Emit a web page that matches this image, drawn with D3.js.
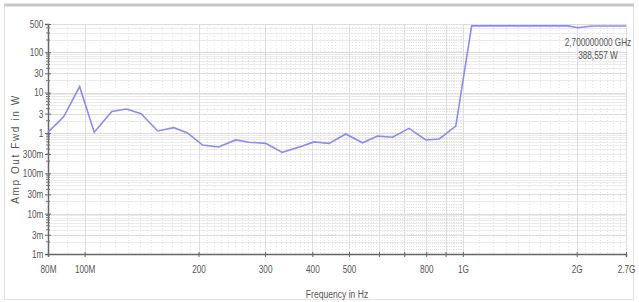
<!DOCTYPE html>
<html>
<head>
<meta charset="utf-8">
<script src="https://cdn.jsdelivr.net/npm/d3@7"></script>
<style>
  body { margin: 0; background: #fff; }
  svg text { font-family: "Liberation Sans", Arial, sans-serif; fill: #555; }
</style>
</head>
<body>
<div class="canvas"></div>
<script>
/////////////////////////////////
//** DATA **//

// frequency in MHz, forward power in W
const freqMHz = [80, 88, 97, 106, 118, 129, 141, 156, 172, 187, 205, 226, 251, 272, 301, 333, 373, 404, 443, 490,
  543, 595, 651, 721, 798, 866, 958, 1055, 1900, 2010, 2200, 2700];
const powerW = [1.05, 2.5, 14, 1.04, 3.4, 3.9, 3.0, 1.12, 1.35, 1.0, 0.5, 0.45, 0.67, 0.59, 0.55, 0.33, 0.46, 0.6, 0.55, 0.94,
  0.57, 0.84, 0.78, 1.3, 0.67, 0.71, 1.48, 450, 450, 405, 445, 445];

const xTicks = [80, 100, 200, 300, 400, 500, 600, 700, 800, 900, 1000, 2000, 2700];
const xTickLabels = ['80M', '100M', '200', '300', '400', '500', '', '', '800', '', '1G', '2G', '2.7G'];
const yTicks = [1e-3, 3e-3, 1e-2, 3e-2, 0.1, 0.3, 1, 3, 10, 30, 100, 500];
const yTickLabels = ['1m', '3m', '10m', '30m', '100m', '300m', '1', '3', '10', '30', '100', '500'];

const readout = ['2,700000000 GHz', '388,557 W'];

/////////////////////////////////
//** DIMENSIONS **//

const width = 639, height = 302;
const plot = { left: 48, right: 626, top: 24, bottom: 254 };
const narrow = 'scale(0.78,1)'; // condensed look of the original labels

const svg = d3.select('.canvas')
  .append('svg')
  .attr('width', width)
  .attr('height', height);

// frame
svg.append('rect')
  .attr('x', 4.5).attr('y', 5.5)
  .attr('width', 629).attr('height', 294)
  .attr('fill', '#fff')
  .attr('stroke', '#e2e2e2');
svg.append('line')
  .attr('x1', 4).attr('x2', 634)
  .attr('y1', 5).attr('y2', 5)
  .attr('stroke', '#c8c8c8')
  .attr('stroke-width', 3);

// scales
const x = d3.scaleLog().domain([80, 2700]).range([plot.left, plot.right]);
const y = d3.scaleLog().domain([1e-3, 500]).range([plot.bottom, plot.top]);

/////////////////////////////////
//** GRID **//

const grid = svg.append('g');

// horizontal minor values 1..9 per decade
const yMinor = [];
for (let e = -3; e <= 2; e++) {
  for (let m = 1; m <= 9; m++) {
    const v = m * Math.pow(10, e);
    if (v <= 500) yMinor.push(v);
  }
}

grid.selectAll('line.hgrid')
  .data(yMinor)
  .enter().append('line')
  .attr('class', 'hgrid')
  .attr('x1', plot.left).attr('x2', plot.right)
  .attr('y1', d => Math.round(y(d)) + 0.5)
  .attr('y2', d => Math.round(y(d)) + 0.5)
  .attr('stroke', d => yTicks.includes(d) ? '#dcdcdc' : '#ebebeb');

// vertical fine dotted lines
const xMinor = [];
for (let f = 80; f <= 1000; f += 10) xMinor.push(f);
for (let f = 1100; f <= 2700; f += 100) xMinor.push(f);

grid.selectAll('line.vgrid')
  .data(xMinor)
  .enter().append('line')
  .attr('class', 'vgrid')
  .attr('y1', plot.top).attr('y2', plot.bottom)
  .attr('x1', d => Math.round(x(d)) + 0.5)
  .attr('x2', d => Math.round(x(d)) + 0.5)
  .attr('stroke', '#e4e4e4')
  .attr('stroke-dasharray', '1,2');

grid.selectAll('line.vmajor')
  .data(xTicks.slice(1))
  .enter().append('line')
  .attr('class', 'vmajor')
  .attr('y1', plot.top).attr('y2', plot.bottom)
  .attr('x1', d => Math.round(x(d)) + 0.5)
  .attr('x2', d => Math.round(x(d)) + 0.5)
  .attr('stroke', '#dedede');

/////////////////////////////////
//** AXES **//

const xAxis = d3.axisBottom(x)
  .tickValues(xTicks)
  .tickFormat((d, i) => xTickLabels[i])
  .tickSize(3)
  .tickPadding(9);

const gx = svg.append('g')
  .attr('transform', `translate(0, ${plot.bottom})`)
  .call(xAxis);
gx.select('.domain').attr('stroke', '#666').attr('stroke-width', 1.5);
gx.selectAll('.tick line').attr('stroke', '#666').attr('y1', -2);
gx.selectAll('text').attr('font-size', 10.5).attr('fill', '#555').attr('transform', narrow);

const yAxis = d3.axisLeft(y)
  .tickValues(yTicks)
  .tickFormat((d, i) => yTickLabels[i])
  .tickSize(3)
  .tickPadding(3);

const gy = svg.append('g')
  .attr('transform', `translate(${plot.left}, 0)`)
  .call(yAxis);
gy.select('.domain').attr('stroke', '#666').attr('stroke-width', 1.5);
gy.selectAll('.tick line').attr('stroke', '#666').attr('x2', -3).attr('x1', 3);
gy.selectAll('text').attr('font-size', 10.5).attr('fill', '#555').attr('transform', narrow);

// y minor ticks
gy.selectAll('line.minor')
  .data(yMinor.filter(d => !yTicks.includes(d)))
  .enter().append('line')
  .attr('class', 'minor')
  .attr('x1', -2).attr('x2', 2)
  .attr('y1', d => y(d)).attr('y2', d => y(d))
  .attr('stroke', '#777');

// axis titles
svg.append('text')
  .attr('transform', `translate(19, ${(plot.top + plot.bottom) / 2 + 10}) rotate(-90)`)
  .attr('text-anchor', 'middle')
  .attr('font-size', 10)
  .attr('letter-spacing', 1.6)
  .text('Amp Out Fwd in W');

svg.append('text')
  .attr('transform', `translate(337, 298) ${narrow}`)
  .attr('text-anchor', 'middle')
  .attr('font-size', 11)
  .text('Frequency in Hz');

/////////////////////////////////
//** LINE **//

const line = d3.line()
  .x((d, i) => x(freqMHz[i]))
  .y(d => y(d));

svg.append('path')
  .datum(powerW)
  .attr('d', line)
  .attr('fill', 'none')
  .attr('stroke', '#8c8cf0')
  .attr('stroke-width', 1.6);

// cursor readout
svg.selectAll('text.readout')
  .data(readout)
  .enter().append('text')
  .attr('class', 'readout')
  .attr('transform', (d, i) => `translate(598, ${46 + i * 13}) ${narrow}`)
  .attr('text-anchor', 'middle')
  .attr('font-size', 10.5)
  .attr('fill', '#444')
  .text(d => d);
</script>
</body>
</html>
